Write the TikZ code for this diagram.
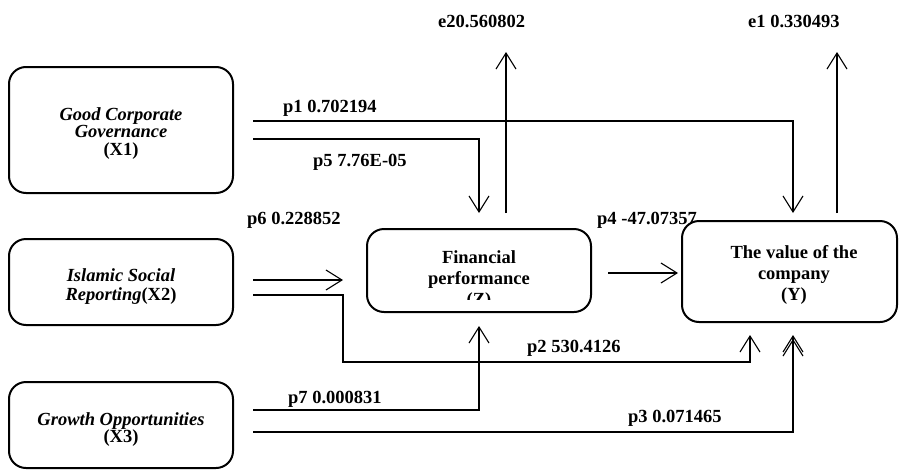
\documentclass[tikz,border=0pt]{standalone}
\usepackage{fontspec}
\setmainfont{Liberation Serif}
\usetikzlibrary{arrows.meta}
\begin{document}
\begin{tikzpicture}[x=1pt,y=-1pt,
  box/.style={draw, line width=2pt, rounded corners=17pt, inner sep=0pt},
  conn/.style={line width=1.1pt},
  arr/.style={conn, -{Straight Barb[length=16pt,width=20pt]}},
  lbl/.style={font=\fontsize{18.5}{20}\selectfont\bfseries, anchor=base west, inner sep=0pt},
  txt/.style={align=center, inner sep=0pt, anchor=north}]
\useasboundingbox (0,0) rectangle (899,469);

% boxes
\node[box, minimum width=224pt, minimum height=126pt] (x1) at (121,130) {};
\node[box, minimum width=224pt, minimum height=86pt] (x2) at (121,282) {};
\node[box, minimum width=224pt, minimum height=86pt] (x3) at (121,425) {};
\node[box, minimum width=224pt, minimum height=83pt] (z) at (479,270.5) {};
\node[box, minimum width=215pt, minimum height=101pt] (yv) at (789.5,271.5) {};

% box texts
\node[txt, font=\fontsize{18.5}{17.5}\selectfont\bfseries] (x1t) at (121,107)
  {{\itshape Good Corporate}\\{\itshape Governance}\\(X1)};
\node[txt, font=\fontsize{18.5}{19}\selectfont\bfseries] (x2t) at (121,268)
  {{\itshape Islamic Social}\\{\itshape Reporting}(X2)};
\node[txt, font=\fontsize{18.5}{17.5}\selectfont\bfseries] (x3t) at (121,412)
  {{\itshape Growth Opportunities}\\(X3)};
\begin{scope}
  \clip (367,229) rectangle (591,299);
  \node[txt, font=\fontsize{18.5}{21}\selectfont\bfseries] (zt) at (479,250)
    {Financial\\performance\\(Z)};
\end{scope}
\node[txt, font=\fontsize{18.5}{21}\selectfont\bfseries] (yt) at (794,245)
  {The value of the\\company\\(Y)};

% labels
\node[lbl] (lp1) at (283,112) {p1 0.702194};
\node[lbl] (lp5) at (313,166) {p5 7.76E-05};
\node[lbl] (lp6) at (247,224) {p6 0.228852};
\node[lbl] (le2) at (438,27) {e20.560802};
\node[lbl] (le1) at (748,27) {e1 0.330493};
\node[lbl] (lp4) at (597,224) {p4 -47.07357};
\node[lbl] (lp2) at (527,352) {p2 530.4126};
\node[lbl] (lp7) at (288,403) {p7 0.000831};
\node[lbl] (lp3) at (628,422) {p3 0.071465};

% connector end points
\coordinate (s1) at (253,121);
\coordinate (t1) at (793,213);
\coordinate (s5) at (253,139);
\coordinate (t5) at (479,213);
\coordinate (se2) at (506,213);
\coordinate (te2) at (506,52);
\coordinate (se1) at (837,213);
\coordinate (te1) at (837,52);
\coordinate (s6) at (253,280);
\coordinate (t6) at (343,280);
\coordinate (s2) at (253,295);
\coordinate (b2) at (343,362);
\coordinate (t2) at (750,335);
\coordinate (s7) at (253,410);
\coordinate (t7) at (479,326);
\coordinate (s3) at (253,432);
\coordinate (t3) at (793,335);
\coordinate (s4) at (608,273);
\coordinate (t4) at (678,273);

% connectors
\draw[arr] (s1) -| (t1);
\draw[arr] (s5) -| (t5);
\draw[arr] (se2) -- (te2);
\draw[arr] (se1) -- (te1);
\draw[arr] (s6) -- (t6);
\draw[arr] (s2) -| (b2) -| (t2);
\draw[arr] (s7) -| (t7);
\draw[arr] (s3) -| (t3);
\draw[arr, shorten >=4pt] (s3) -| (t3);
\draw[arr] (s4) -- (t4);
\end{tikzpicture}
\end{document}
